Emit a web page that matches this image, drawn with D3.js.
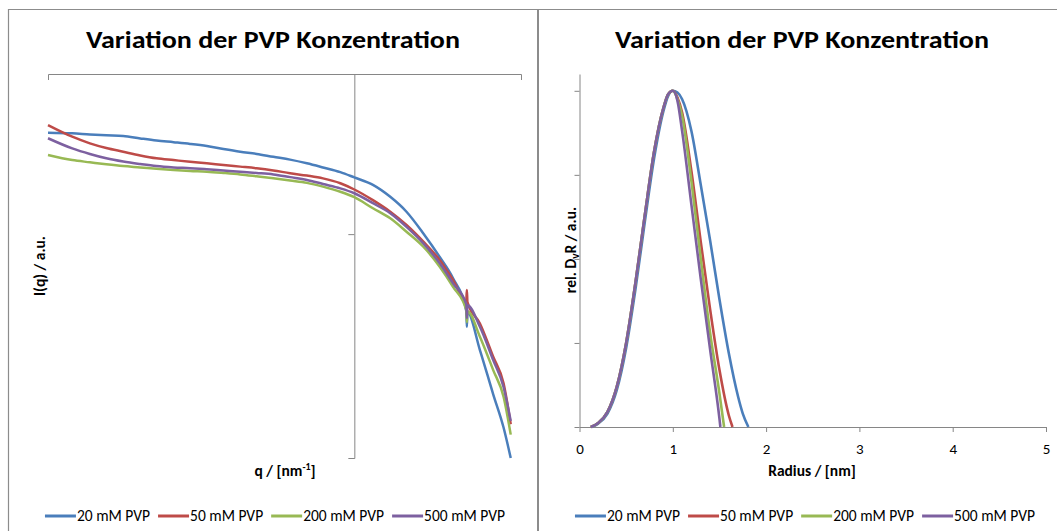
<!DOCTYPE html>
<html lang="de">
<head>
<meta charset="UTF-8">
<script src="https://d3js.org/d3.v7.min.js"></script>
<style>
  body { margin: 0; background: #fff; }
  text { font-family: Calibri, Carlito, Lato, "Open Sans", sans-serif; fill: #000; }
  .axis path, .axis line { stroke: #868686; }
</style>
</head>
<body>
<svg id="chart" width="1057" height="531"></svg>
<script>
const seriesNames = ["20 mM PVP", "50 mM PVP", "200 mM PVP", "500 mM PVP"];
const seriesColors = ["#4a7ebb", "#be4b48", "#98b954", "#7d60a0"];

// left chart: scattering curves I(q), q in nm^-1 (log-log)
const q = [0.1, 0.12, 0.137, 0.155, 0.176, 0.2, 0.226, 0.257, 0.291, 0.33, 0.374, 0.424, 0.48, 0.544,
  0.617, 0.7, 0.79, 0.9, 1.0, 1.15, 1.31, 1.48, 1.68, 1.9, 2.1, 2.32, 2.33, 2.34, 2.57, 2.84, 3.07, 3.24];
const i20 = [0.430, 0.426, 0.419, 0.414, 0.410, 0.396, 0.384, 0.375, 0.366, 0.355, 0.340, 0.327, 0.317, 0.304,
  0.292, 0.277, 0.261, 0.244, 0.226, 0.203, 0.171, 0.138, 0.101, 0.072, 0.053, 0.0331, 0.0264, 0.0325, 0.0189, 0.0100, 0.0062, 0.0040];
const i50 = [0.480, 0.406, 0.369, 0.345, 0.327, 0.310, 0.2975, 0.290, 0.283, 0.277, 0.270, 0.264, 0.258, 0.250,
  0.240, 0.232, 0.223, 0.208, 0.190, 0.163, 0.138, 0.114, 0.0897, 0.0689, 0.0517, 0.0382, 0.0448, 0.0376, 0.0277, 0.01715, 0.0117, 0.0065];
const i200 = [0.312, 0.290, 0.281, 0.273, 0.266, 0.261, 0.256, 0.2514, 0.248, 0.2454, 0.241, 0.236, 0.2296, 0.223,
  0.216, 0.209, 0.198, 0.184, 0.170, 0.145, 0.1255, 0.1035, 0.0834, 0.0626, 0.0469, 0.0336, 0.0282, 0.0330, 0.0229, 0.01416, 0.00965, 0.0056];
const i500 = [0.397, 0.343, 0.3165, 0.2975, 0.284, 0.274, 0.266, 0.261, 0.258, 0.254, 0.2496, 0.2454, 0.241, 0.236,
  0.227, 0.218, 0.2055, 0.193, 0.180, 0.156, 0.135, 0.111, 0.0876, 0.0657, 0.0493, 0.0366, 0.0299, 0.0360, 0.0264, 0.01635, 0.0111, 0.0068];

// right chart: relative volume distribution over radius (nm)
const r20 = [0.13, 0.2, 0.3, 0.4, 0.5, 0.6, 0.7, 0.8, 0.9, 0.95, 1.0, 1.05, 1.1, 1.2, 1.3, 1.4, 1.5, 1.6, 1.7, 1.75, 1.81];
const dv20 = [0, 0.01, 0.04, 0.11, 0.235, 0.41, 0.61, 0.80, 0.94, 0.985, 1.0, 0.995, 0.975, 0.88, 0.72, 0.555, 0.38, 0.22, 0.09, 0.04, 0];
const r50 = [0.12, 0.2, 0.3, 0.4, 0.5, 0.6, 0.7, 0.8, 0.9, 0.95, 1.0, 1.05, 1.1, 1.2, 1.3, 1.4, 1.5, 1.6, 1.64];
const dv50 = [0, 0.012, 0.045, 0.12, 0.25, 0.43, 0.63, 0.82, 0.95, 0.99, 1.0, 0.98, 0.935, 0.76, 0.55, 0.35, 0.17, 0.035, 0];
const r200 = [0.12, 0.2, 0.3, 0.4, 0.5, 0.6, 0.7, 0.8, 0.9, 0.95, 1.0, 1.05, 1.1, 1.2, 1.3, 1.4, 1.5, 1.55];
const dv200 = [0, 0.012, 0.045, 0.12, 0.25, 0.43, 0.63, 0.82, 0.95, 0.99, 1.0, 0.975, 0.925, 0.73, 0.50, 0.28, 0.10, 0];
const r500 = [0.12, 0.2, 0.3, 0.4, 0.5, 0.6, 0.7, 0.8, 0.9, 0.95, 1.0, 1.05, 1.1, 1.2, 1.3, 1.4, 1.5, 1.51];
const dv500 = [0, 0.012, 0.045, 0.12, 0.25, 0.43, 0.63, 0.82, 0.95, 0.99, 1.0, 0.97, 0.88, 0.66, 0.44, 0.23, 0.025, 0];

const radiusTicks = [0, 1, 2, 3, 4, 5];
const distTicks = [0, 0.25, 0.5, 0.75, 1];

const svg = d3.select("#chart");

// chart frames
svg.append("path")
  .attr("d", "M8.5,531V9.5H1057")
  .attr("fill", "none").attr("stroke", "#8c8c8c").attr("stroke-width", 1.2);
svg.append("line")
  .attr("x1", 538).attr("x2", 538).attr("y1", 9).attr("y2", 531)
  .attr("stroke", "#8c8c8c").attr("stroke-width", 2);

function title(cx) {
  svg.append("text")
    .attr("x", cx).attr("y", 48)
    .attr("text-anchor", "middle")
    .attr("font-size", 25).attr("font-weight", "bold")
    .attr("textLength", 374).attr("lengthAdjust", "spacingAndGlyphs")
    .text("Variation der PVP Konzentration");
}

function legend(cx) {
  const g = svg.append("g").attr("transform", "translate(0,516)");
  const items = g.selectAll("g").data(seriesNames).enter().append("g");
  items.append("line")
    .attr("x1", 0).attr("x2", 31)
    .attr("stroke", (d, i) => seriesColors[i]).attr("stroke-width", 3);
  items.append("text")
    .attr("x", 32).attr("dy", "0.35em")
    .attr("font-size", 15.5).attr("fill", "#222")
    .text(d => d);
  let widths = [];
  items.each(function () { widths.push(32 + d3.select(this).select("text").node().getComputedTextLength()); });
  const gap = 8;
  const total = d3.sum(widths) + gap * (widths.length - 1);
  let x = cx - total / 2;
  items.attr("transform", (d, i) => { const t = "translate(" + x + ",0)"; x += widths[i] + gap; return t; });
}

// ---------- left chart ----------
const xQ = d3.scaleLog().domain([0.1, 3.5]).range([48, 521]);
const yI = d3.scaleLog().domain([0.004, 1]).range([458, 74]);

title(273);

svg.append("g").attr("class", "axis")
  .attr("transform", "translate(0,74)")
  .call(d3.axisBottom(xQ).tickValues([]).tickSizeOuter(6));

svg.append("g").attr("class", "axis")
  .attr("transform", "translate(" + xQ(1) + ",0)")
  .call(d3.axisLeft(yI).tickValues([0.1]).tickSize(6).tickFormat(""));

const iSeries = [i20, i50, i200, i500];
const lineI = d3.line().x(d => xQ(d[0])).y(d => yI(d[1])).curve(d3.curveMonotoneX);
iSeries.forEach((vals, k) => {
  svg.append("path")
    .datum(q.map((v, j) => [v, vals[j]]))
    .attr("fill", "none")
    .attr("stroke", seriesColors[k])
    .attr("stroke-width", 2.5)
    .attr("stroke-linejoin", "round")
    .attr("d", lineI);
});

svg.append("text")
  .attr("transform", "translate(40,266) rotate(-90)")
  .attr("text-anchor", "middle").attr("dy", "0.35em")
  .attr("font-size", 15.5).attr("font-weight", "bold")
  .text("I(q) / a.u.");

const qLabel = svg.append("text")
  .attr("x", 285).attr("y", 476)
  .attr("text-anchor", "middle")
  .attr("font-size", 15.5).attr("font-weight", "bold");
qLabel.append("tspan").text("q / [nm");
qLabel.append("tspan").attr("font-size", 10).attr("dy", -6).text("-1");
qLabel.append("tspan").attr("dy", 6).text("]");

legend(275);

// ---------- right chart ----------
const xR = d3.scaleLinear().domain([0, 5]).range([579.5, 1046]);
const yR = d3.scaleLinear().domain([0, 1.05]).range([427, 74]);

title(802);

svg.append("g").attr("class", "axis")
  .attr("transform", "translate(0,427)")
  .call(d3.axisBottom(xR).tickValues(radiusTicks).tickSize(5).tickSizeOuter(0).tickPadding(11).tickFormat(d3.format("d")))
  .call(g => g.selectAll("text").attr("font-size", 15).attr("fill", "#222")
    .style("font-family", "Calibri, Carlito, Lato, 'Open Sans', sans-serif"));

svg.append("g").attr("class", "axis")
  .attr("transform", "translate(579.5,0)")
  .call(d3.axisLeft(yR).tickValues(distTicks).tickSize(5).tickSizeOuter(0).tickFormat(""));

const rSeries = [[r20, dv20], [r50, dv50], [r200, dv200], [r500, dv500]];
const lineR = d3.line().x(d => xR(d[0])).y(d => yR(d[1])).curve(d3.curveMonotoneX);
rSeries.forEach((s, k) => {
  svg.append("path")
    .datum(s[0].map((v, j) => [v, s[1][j]]))
    .attr("fill", "none")
    .attr("stroke", seriesColors[k])
    .attr("stroke-width", 2.6)
    .attr("d", lineR);
});

const dLabel = svg.append("text")
  .attr("transform", "translate(571,250) rotate(-90)")
  .attr("text-anchor", "middle").attr("dy", "0.35em")
  .attr("font-size", 15.5).attr("font-weight", "bold");
dLabel.append("tspan").text("rel. D");
dLabel.append("tspan").attr("font-size", 11).attr("dy", 3).text("v");
dLabel.append("tspan").attr("dy", -3).text("R / a.u.");

svg.append("text")
  .attr("x", 812).attr("y", 476)
  .attr("text-anchor", "middle")
  .attr("font-size", 15.5).attr("font-weight", "bold")
  .text("Radius / [nm]");

legend(805);
</script>
</body>
</html>
